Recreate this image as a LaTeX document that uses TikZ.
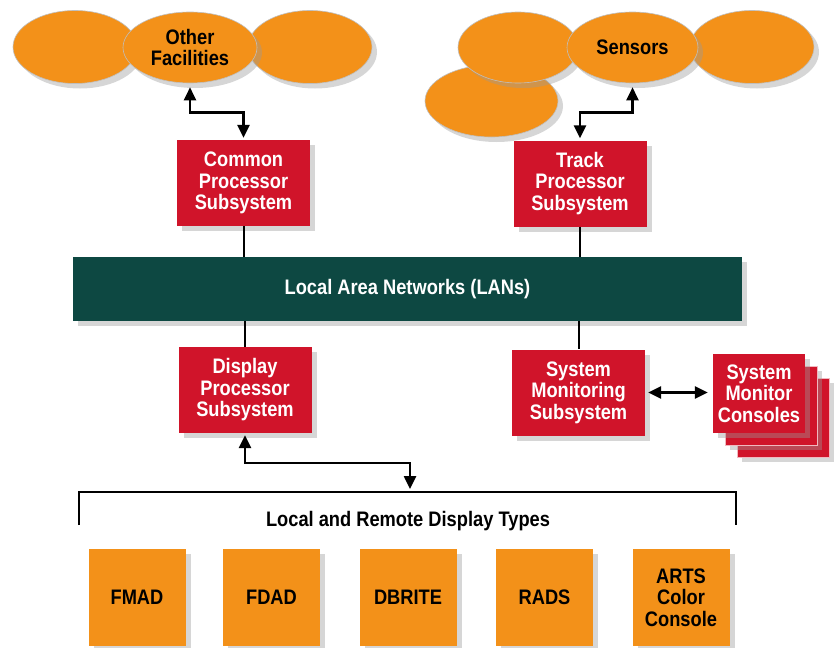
\documentclass[tikz,border=0pt]{standalone}
\usepackage{fontspec}
\setmainfont{Liberation Sans}[FakeStretch=0.87]
\usetikzlibrary{shapes.geometric,shadows,arrows.meta}
\definecolor{boxred}{HTML}{D0142A}
\definecolor{orng}{HTML}{F39119}
\definecolor{lanteal}{HTML}{0D4842}
\begin{document}
\begin{tikzpicture}[x=1pt,y=-1pt,
 font=\fontsize{21}{21.5}\selectfont\bfseries,
 shd/.style={drop shadow={shadow xshift=5pt,shadow yshift=-5pt,fill=black!40,opacity=.4}},
 redbox/.style={rectangle,fill=boxred,text=white,minimum width=133pt,minimum height=86pt,align=center,inner sep=2pt,shd},
 oval/.style={ellipse,fill=orng,draw=black!25,line width=.6pt,minimum width=124pt,minimum height=73pt,inner sep=0pt,align=center,shd},
 dispbox/.style={rectangle,fill=orng,minimum width=97pt,minimum height=97pt,align=center,inner sep=2pt,shd},
 arr/.style={line width=2.5pt,{Triangle[length=13pt,width=12pt]}-{Triangle[length=13pt,width=12pt]}},
 conn/.style={line width=2pt}]
\useasboundingbox (0,0) rectangle (836,648);
% left cluster
\node[oval] (ofl) at (75,47) {};
\node[oval] (ofr) at (310,47) {};
\node[oval,minimum width=134pt,minimum height=71pt] (ofac) at (190,47.5) {Other\\Facilities};
% right cluster
\node[oval,minimum width=133pt,minimum height=72pt] (sbl) at (491.5,101) {};
\node[oval,minimum width=120pt,minimum height=71pt] (stl) at (518,47.5) {};
\node[oval] (sr) at (752,47) {};
\node[oval,minimum width=131pt,minimum height=71pt] (sens) at (632.5,47.5) {Sensors};
% processors
\node[redbox] (cps) at (243.5,183) {Common\\Processor\\Subsystem};
\node[redbox] (tps) at (580,183.5) {Track\\Processor\\Subsystem};
\node[rectangle,fill=lanteal,text=white,minimum width=669pt,minimum height=64pt,shd] (lan) at (407.5,289) {Local Area Networks (LANs)};
\node[redbox] (dps) at (245,390) {Display\\Processor\\Subsystem};
\node[redbox] (sms) at (578.5,392.5) {System\\Monitoring\\Subsystem};
% consoles stack
\node[redbox,minimum width=92pt,minimum height=79pt,draw=white!70!boxred,line width=.8pt] (con3) at (783,417.5) {};
\node[redbox,minimum width=92pt,minimum height=79pt,draw=white!70!boxred,line width=.8pt] (con2) at (771,405.5) {};
\node[redbox,minimum width=92pt,minimum height=79pt,inner sep=0pt] (con1) at (759,393.5) {System\\Monitor\\Consoles};
% connectors
\draw[arr] ([yshift=-4pt]ofac.south) -- ++(0,25) -| ([yshift=2pt]cps.north);
\draw[arr] ([yshift=2pt]tps.north) -- ++(0,-26) -| ([yshift=-4pt]sens.south);
\draw[conn] (cps.south) -- (cps.south |- lan.north);
\draw[conn] (tps.south) -- (tps.south |- lan.north);
\draw[conn] (lan.south -| dps.north) -- (dps.north);
\draw[conn] (lan.south -| sms.north) -- (sms.north);
\draw[arr] ([xshift=3pt]sms.east) -- ([xshift=-5pt]sms.east -| con1.west);
% display types
\coordinate (brk) at (410,489);
\coordinate (blb) at (79,525);
\coordinate (blt) at (79,492);
\coordinate (brt) at (736,492);
\coordinate (brb) at (736,525);
\draw[arr] ([yshift=-2pt]dps.south) -- ++(0,28) -| (brk);
\draw[conn] (blb) -- (blt) -- (brt) -- (brb);
\node (ldt) at (408,521) {Local and Remote Display Types};
\node[dispbox] (fmad) at (137,597.5) {FMAD};
\node[dispbox] (fdad) at (271.5,597.5) {FDAD};
\node[dispbox] (dbrite) at (408,597.5) {DBRITE};
\node[dispbox] (rads) at (544.5,597.5) {RADS};
\node[dispbox] (arts) at (681,597.5) {ARTS\\Color\\Console};
\end{tikzpicture}
\end{document}
